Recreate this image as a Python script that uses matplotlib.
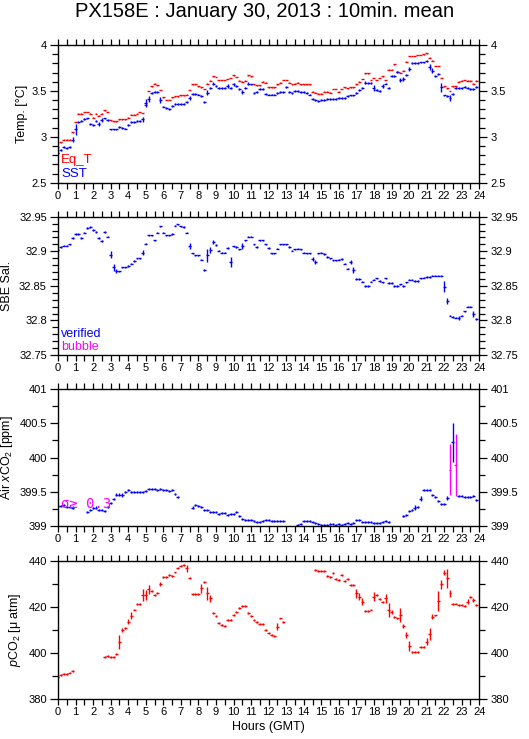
import numpy as np
import matplotlib.pyplot as plt
from matplotlib.ticker import MultipleLocator, FormatStrFormatter

plt.rcParams['font.family'] = ['Liberation Sans', 'DejaVu Sans']
plt.rcParams['mathtext.fontset'] = 'custom'
plt.rcParams['mathtext.rm'] = 'Liberation Sans'
plt.rcParams['mathtext.it'] = 'Liberation Sans:italic'

nan = np.nan

# 10-minute means, index i -> hour i/6
sst = [2.82, 2.86, 2.89, 2.88, 2.89, 2.97, 3.08, 3.16, 3.17, 3.19, 3.20, 3.14,
       3.13, 3.17, 3.14, 3.18, 3.20, 3.18, 3.08, 3.08, 3.08, 3.11, 3.10, 3.09,
       3.13, 3.16, 3.16, 3.17, 3.17, 3.19, 3.37, 3.41, 3.48, 3.49, 3.49, 3.40,
       3.33, 3.31, 3.30, 3.34, 3.36, 3.36, 3.36, 3.36, 3.38, 3.42, 3.47, 3.47,
       3.46, 3.44, 3.38, 3.48, 3.53, 3.58, 3.55, 3.53, 3.53, 3.53, 3.55, 3.53,
       3.57, 3.55, 3.52, 3.49, 3.53, 3.58, 3.57, 3.48, 3.49, 3.52, 3.52, 3.47,
       3.46, 3.46, 3.46, 3.48, 3.49, 3.49, 3.54, 3.49, 3.48, 3.50, 3.50, 3.49,
       3.49, 3.48, 3.46, 3.41, 3.40, 3.39, 3.40, 3.40, 3.41, 3.41, 3.41, 3.41,
       3.42, 3.42, 3.42, 3.44, 3.45, 3.45, 3.48, 3.51, 3.53, 3.59, 3.59, 3.59,
       3.53, 3.51, 3.50, 3.55, 3.58, 3.53, 3.66, 3.66, 3.71, 3.62, 3.63, 3.67,
       3.74, 3.80, 3.80, 3.80, 3.81, 3.81, 3.83, 3.76, 3.72, 3.66, 3.68, 3.54,
       3.45, 3.44, 3.42, 3.47, 3.53, 3.53, 3.53, 3.54, 3.53, 3.52, 3.52, 3.54]
sst_err = {5: 0.03, 6: 0.06, 14: 0.02, 15: 0.02, 29: 0.03, 30: 0.04, 31: 0.03,
           35: 0.03, 45: 0.02, 51: 0.03, 53: 0.02, 58: 0.02, 60: 0.02, 63: 0.02,
           65: 0.02, 105: 0.02, 108: 0.03, 111: 0.02, 117: 0.02, 118: 0.02,
           120: 0.02, 127: 0.03, 128: 0.03, 131: 0.05, 134: 0.03}

eq_t = [2.89, 2.94, 2.97, 2.97, 2.97, 3.05, 3.16, 3.25, 3.25, 3.27, 3.27, 3.25,
        3.21, 3.25, 3.23, 3.25, 3.29, 3.27, 3.18, 3.17, 3.17, 3.19, 3.19, 3.19,
        3.21, 3.24, 3.24, 3.25, 3.27, 3.26, 3.35, 3.50, 3.55, 3.58, 3.56, 3.51,
        3.43, 3.40, 3.40, 3.43, 3.44, 3.44, 3.45, 3.45, 3.46, 3.51, 3.57, 3.57,
        3.55, 3.54, 3.52, 3.58, 3.61, 3.66, 3.65, 3.62, 3.62, 3.62, 3.63, 3.64,
        3.67, 3.65, 3.61, 3.60, 3.61, 3.67, 3.66, 3.57, 3.56, 3.56, 3.60, 3.59,
        3.54, 3.54, 3.54, 3.57, 3.59, 3.62, 3.62, 3.59, 3.57, 3.58, 3.59, 3.57,
        3.57, 3.57, 3.57, 3.49, 3.48, 3.47, 3.47, 3.49, 3.49, 3.48, 3.52, 3.52,
        3.49, 3.52, 3.54, 3.53, 3.54, 3.54, 3.57, 3.60, 3.63, 3.69, 3.69, 3.62,
        3.64, 3.62, 3.64, 3.66, 3.62, 3.73, 3.73, 3.79, 3.71, 3.70, 3.72, 3.82,
        3.88, 3.88, 3.88, 3.89, 3.89, 3.90, 3.91, 3.86, 3.83, 3.77, 3.77, 3.64,
        3.55, 3.53, 3.50, 3.55, 3.55, 3.60, 3.61, 3.62, 3.61, 3.61, 3.58, 3.61]

sal = [32.902, 32.906, 32.908, 32.908, 32.910, 32.919, 32.925, 32.925, 32.919,
       32.927, 32.934, 32.935, 32.931, 32.928, 32.919, 32.915, 32.928, 32.921,
       32.895, 32.877, 32.871, 32.871, 32.877, 32.877, 32.879, 32.882, 32.886,
       32.890, 32.890, 32.898, 32.911, 32.923, 32.923, 32.916, 32.927, 32.936,
       32.927, 32.923, 32.923, 32.925, 32.937, 32.939, 32.936, 32.935, 32.927,
       32.908, 32.897, 32.894, 32.894, 32.888, 32.873, 32.894, 32.902, 32.914,
       32.909, 32.901, 32.898, 32.898, 32.905, 32.885, 32.907, 32.906, 32.903,
       32.908, 32.916, 32.921, 32.921, 32.910, 32.906, 32.916, 32.916, 32.910,
       32.905, 32.897, 32.897, 32.904, 32.910, 32.910, 32.910, 32.906, 32.901,
       32.903, 32.904, 32.903, 32.898, 32.897, 32.897, 32.889, 32.884, 32.897,
       32.898, 32.896, 32.892, 32.890, 32.887, 32.887, 32.888, 32.889, 32.882,
       32.875, 32.884, 32.873, 32.860, 32.860, 32.856, 32.850, 32.850, 32.856,
       32.859, 32.861, 32.857, 32.855, 32.861, 32.854, 32.854, 32.850, 32.850,
       32.852, 32.850, 32.855, 32.859, 32.859, 32.857, 32.857, 32.861, 32.862,
       32.863, 32.863, 32.865, 32.865, 32.865, 32.865, 32.849, 32.828, 32.807,
       32.805, 32.804, 32.804, 32.807, 32.813, 32.820, 32.820, 32.809, 32.802]
sal_err = {18: 0.005, 19: 0.005, 20: 0.003, 29: 0.004, 45: 0.004, 51: 0.010,
           52: 0.004, 53: 0.003, 59: 0.007, 63: 0.004, 87: 0.003, 88: 0.003,
           100: 0.003, 101: 0.004, 132: 0.008, 133: 0.004, 137: 0.003, 142: 0.004}

air = [399.29, 399.29, 399.31, 399.28, 399.28, 399.27, nan, nan, nan, nan,
       399.21, 399.23, 399.26, 399.27, 399.23, 399.23, 399.22, 399.28, 399.34,
       399.39, 399.46, 399.46, 399.45, 399.50, 399.53, 399.49, 399.49, 399.50,
       399.50, 399.50, 399.51, 399.54, 399.54, 399.54, 399.52, 399.54, 399.52,
       399.53, 399.51, 399.52, 399.47, 399.43, nan, nan, nan, nan,
       399.27, 399.31, 399.29, 399.28, 399.24, 399.24, 399.21, 399.21, 399.20,
       399.18, 399.19, 399.19, 399.16, 399.17, 399.18, 399.21, 399.15, 399.10,
       399.09, 399.09, 399.09, 399.07, 399.06, 399.06, 399.08, 399.09, 399.09,
       399.08, 399.08, 399.08, 399.08, 399.08, nan, nan, nan, nan,
       399.01, 399.03, 399.08, 399.08, 399.08, 399.06, 399.05, 399.03, 399.02,
       399.01, 399.01, 399.03, 399.03, 399.02, 399.03, 399.01, 399.03, 399.04,
       399.03, 399.04, 399.09, 399.09, 399.06, 399.06, 399.06, 399.06, 399.05,
       399.05, 399.05, 399.06, 399.07, 399.06, nan, nan, nan, nan,
       399.14, 399.16, 399.22, 399.24, 399.27, 399.28, 399.40, 399.52, 399.52,
       399.52, 399.45, 399.43, 399.36, 399.32, 399.32, 399.41, 399.82, 400.22,
       399.89, 399.44, 399.44, 399.43, 399.43, 399.43, 399.44, 399.38]
air_err = {22: 0.03, 122: 0.03, 124: 0.04, 133: 0.03, 134: 0.37, 135: 0.29, 136: 0.45}
air_flagged = [134, 136]

pco2 = [389.4, 390.3, 390.6, 390.6, 391.4, 391.9,
        nan, nan, nan, nan, nan, nan, nan, nan, nan, nan,
        398.3, 398.6, 398.3, 398.0, 399.4, 404.8, 409.9, 410.6, 413.5, 416.1,
        418.8, 421.2, 421.2, 425.1, 425.1, 427.5, 426.8, 425.1, 426.1, 429.9,
        432.8, 432.8, 433.8, 433.3, 434.9, 436.7, 437.7, 438.1, 436.7, 432.6,
        425.5, 425.5, 425.5, 428.0, 430.9, 425.8, 423.6, 417.4, 415.9, 413.0,
        412.0, 411.6, 414.2, 414.2, 416.4, 417.8, 419.6, 420.3, 420.3, 417.4,
        415.9, 414.2, 413.5, 412.5, 412.5, 409.9, 408.7, 407.7, 407.2, 411.3,
        414.9, 413.5,
        nan, nan, nan, nan, nan, nan, nan, nan, nan, nan,
        435.9, 435.7, 435.7, 435.7, 433.3, 433.0, 434.8, 431.9, 431.6, 433.8,
        431.3, 431.9, 429.4, 429.4, 425.8, 424.3, 422.2, 418.1, 418.1, 418.8,
        424.3, 425.1, 423.2, 422.2, 423.6, 418.6, 417.8, 415.4, 414.9, 416.4,
        411.6, 407.7, 402.9, 400.3, 400.3, 400.3, 402.6, 402.6, 404.8, 408.1,
        415.7, 416.2, 422.5, 429.7, 434.8, 432.3, 425.8, 421.2, 421.4, 420.7,
        420.7, 420.3, 422.2, 424.1, 422.9, 420.7]
pco2_err = {21: 3.0, 22: 1.0, 24: 1.0, 25: 1.5, 29: 2.5, 30: 2.0, 31: 2.0, 35: 1.0,
            44: 1.5, 49: 2.0, 51: 3.0, 52: 1.5, 75: 1.5, 102: 2.0, 103: 1.5,
            104: 1.5, 108: 2.0, 112: 2.0, 113: 3.0, 114: 1.0, 117: 3.0, 118: 1.0,
            119: 1.5, 120: 2.0, 126: 1.5, 127: 2.5, 128: 1.0, 130: 4.5, 131: 2.0,
            132: 1.0, 133: 4.0, 134: 1.5, 140: 1.0, 142: 1.0}

hours = np.arange(144) / 6.0
half = 5 / 60.0


def errs(n, default, big):
    e = np.full(n, default)
    for k, v in big.items():
        e[k] = v
    return e


def bars(ax, x, y, yerr, color):
    ax.errorbar(x, y, yerr=yerr, xerr=half, fmt='none', ecolor=color,
                elinewidth=1.0, capsize=0)


def style(ax, lo, hi, major, minor, label, label_x):
    ax.set_xlim(0, 24)
    ax.set_ylim(lo, hi)
    ax.xaxis.set_major_locator(MultipleLocator(1))
    ax.xaxis.set_minor_locator(MultipleLocator(0.5))
    ax.yaxis.set_major_locator(MultipleLocator(major))
    ax.yaxis.set_minor_locator(MultipleLocator(minor))
    ax.yaxis.set_major_formatter(FormatStrFormatter('%g'))
    ax.tick_params(which='both', direction='out', top=True, right=True,
                   labelright=True, labelsize=8, width=0.9)
    ax.tick_params(axis='x', which='both', length=4, pad=2)
    ax.tick_params(axis='y', which='major', length=6, pad=2)
    ax.tick_params(axis='y', which='minor', length=4)
    for s in ax.spines.values():
        s.set_linewidth(1.0)
    ax.set_ylabel(label, fontsize=9)
    ax.yaxis.set_label_coords(label_x, 0.5)


fig = plt.figure(figsize=(5.29, 7.39), dpi=100)
left, width = 0.1096, 0.7964
ax1 = fig.add_axes([left, 0.7528, width, 0.1863])
ax2 = fig.add_axes([left, 0.5196, width, 0.1871])
ax3 = fig.add_axes([left, 0.2882, width, 0.1854])
ax4 = fig.add_axes([left, 0.0545, width, 0.1867])

# temperature
bars(ax1, hours, eq_t, 0.004, 'red')
bars(ax1, hours, sst, errs(144, 0.01, sst_err), 'blue')
style(ax1, 2.5, 4, 0.5, 0.1, 'Temp. [°C]', -0.072)
ax1.text(0.008, 0.14, 'Eq_T', color='red', fontsize=9.5, transform=ax1.transAxes)
ax1.text(0.008, 0.042, 'SST', color='blue', fontsize=9.5, transform=ax1.transAxes)

# salinity
bars(ax2, hours, sal, errs(144, 0.001, sal_err), 'blue')
style(ax2, 32.75, 32.95, 0.05, 0.01, 'SBE Sal.', -0.106)
ax2.text(0.008, 0.128, 'verified', color='blue', fontsize=9, transform=ax2.transAxes)
ax2.text(0.008, 0.034, 'bubble', color='magenta', fontsize=9, transform=ax2.transAxes)

# air xCO2
air = np.array(air)
air_e = errs(144, 0.015, air_err)
flag = np.zeros(144, bool)
flag[air_flagged] = True
bars(ax3, hours[~flag], air[~flag], air_e[~flag], 'blue')
bars(ax3, hours[flag], air[flag], air_e[flag], 'magenta')
style(ax3, 399, 401, 0.5, 0.25, 'Air $x$CO$_2$ [ppm]', -0.103)
ax3.text(0.007, 0.135, 'σ≥ 0.3', color='magenta', fontsize=10,
         family=['DejaVu Sans Mono', 'DejaVu Sans'], transform=ax3.transAxes)

# pCO2
bars(ax4, hours, pco2, errs(144, 0.4, pco2_err), 'red')
style(ax4, 380, 440, 20, 10, '$p$CO$_2$ [μ atm]', -0.084)
ax4.set_xlabel('Hours (GMT)', fontsize=9, labelpad=3)

fig.text(0.5, 0.984, 'PX158E : January 30, 2013 : 10min. mean',
         ha='center', va='center', fontsize=14.5)

fig.savefig('out.png', dpi=100)
